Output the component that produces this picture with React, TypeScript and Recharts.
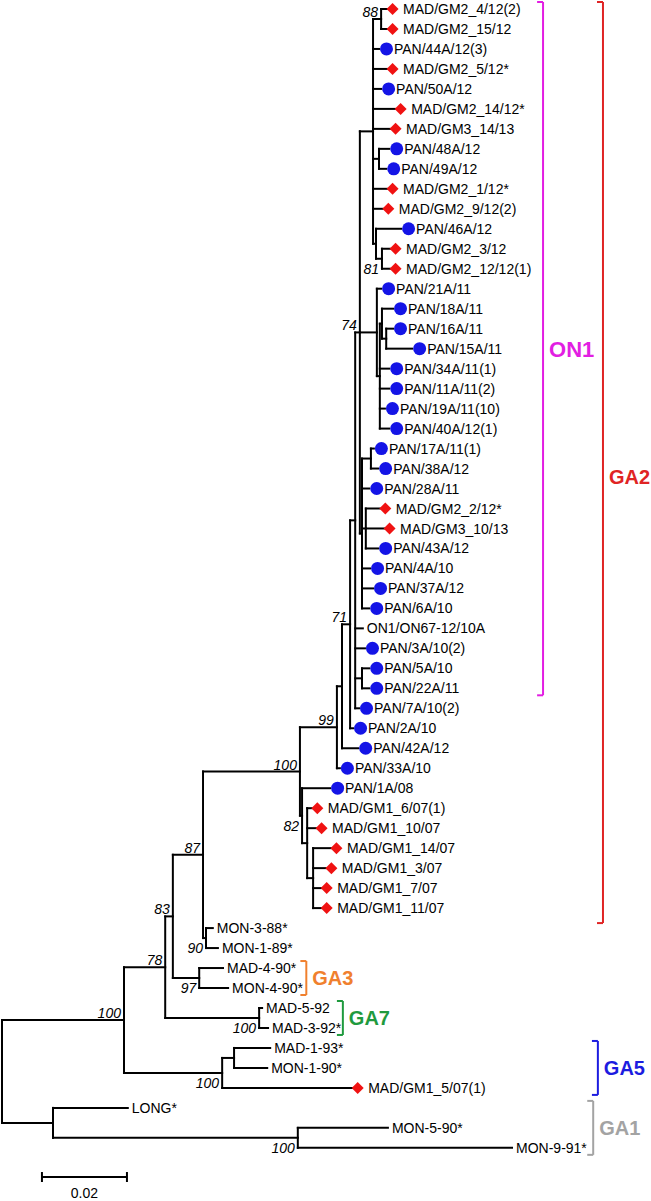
import { ReferenceLine, Scatter, ScatterChart, XAxis, YAxis } from "recharts";

// Leaves, top to bottom. One row each.
const leafNames = [
  "MAD/GM2_4/12(2)", "MAD/GM2_15/12", "PAN/44A/12(3)", "MAD/GM2_5/12*", "PAN/50A/12",
  "MAD/GM2_14/12*", "MAD/GM3_14/13", "PAN/48A/12", "PAN/49A/12", "MAD/GM2_1/12*",
  "MAD/GM2_9/12(2)", "PAN/46A/12", "MAD/GM2_3/12", "MAD/GM2_12/12(1)", "PAN/21A/11",
  "PAN/18A/11", "PAN/16A/11", "PAN/15A/11", "PAN/34A/11(1)", "PAN/11A/11(2)",
  "PAN/19A/11(10)", "PAN/40A/12(1)", "PAN/17A/11(1)", "PAN/38A/12", "PAN/28A/11",
  "MAD/GM2_2/12*", "MAD/GM3_10/13", "PAN/43A/12", "PAN/4A/10", "PAN/37A/12",
  "PAN/6A/10", "ON1/ON67-12/10A", "PAN/3A/10(2)", "PAN/5A/10", "PAN/22A/11",
  "PAN/7A/10(2)", "PAN/2A/10", "PAN/42A/12", "PAN/33A/10", "PAN/1A/08",
  "MAD/GM1_6/07(1)", "MAD/GM1_10/07", "MAD/GM1_14/07", "MAD/GM1_3/07", "MAD/GM1_7/07",
  "MAD/GM1_11/07", "MON-3-88*", "MON-1-89*", "MAD-4-90*", "MON-4-90*",
  "MAD-5-92", "MAD-3-92*", "MAD-1-93*", "MON-1-90*", "MAD/GM1_5/07(1)",
  "LONG*", "MON-5-90*", "MON-9-91*",
];

// Distance of each tip from the root (substitutions per site).
const leafDepths = [
  0.0906, 0.0906, 0.0887, 0.0906, 0.0892,
  0.0925, 0.0913, 0.0911, 0.0904, 0.0906,
  0.0896, 0.0939, 0.0913, 0.0913, 0.0892,
  0.092, 0.092, 0.0965, 0.0911, 0.0911,
  0.0901, 0.0911, 0.0875, 0.0885, 0.0864,
  0.0889, 0.0899, 0.0885, 0.0866, 0.0873,
  0.0864, 0.0849, 0.0854, 0.0864, 0.0864,
  0.084, 0.0826, 0.0838, 0.0795, 0.0772,
  0.0729, 0.0739, 0.0774, 0.0762, 0.0751,
  0.0751, 0.0496, 0.0508, 0.052, 0.0532,
  0.0612, 0.0626, 0.0631, 0.0624, 0.0824,
  0.0296, 0.0908, 0.12,
];

// Internal nodes: id, depth, children top to bottom (leaf row or node id).
const treeNodes: [string, number, (number | string)[]][] = [
  ["N88", 0.0892, [0, 1]],
  ["N48", 0.0887, [7, 8]],
  ["N81", 0.0894, [12, 13]],
  ["N46", 0.088, [11, "N81"]],
  ["T", 0.0873, ["N88", 2, 3, 4, 5, 6, "N48", 9, 10, "N46"]],
  ["N16", 0.0904, [16, 17]],
  ["N18", 0.0894, [15, "N16"]],
  ["S2b", 0.0889, ["N18", 18, 19, 20, 21]],
  ["S2", 0.0882, [14, "S2b"]],
  ["N17", 0.0868, [22, 23]],
  ["N366", 0.0856, [25, 26, 27]],
  ["M", 0.0847, ["N17", 24, "N366", 28, 29, 30]],
  ["N74", 0.0842, ["T", "S2", "M"]],
  ["N362", 0.0847, [33, 34]],
  ["Z", 0.0831, ["N74", 31, 32, "N362", 35]],
  ["Y", 0.0819, ["Z", 36]],
  ["X", 0.08, ["Y", 37]],
  ["N99", 0.0788, ["X", 38]],
  ["N313", 0.0732, [42, 43, 44, 45]],
  ["N82", 0.0718, [40, 41, "N313"]],
  ["N1A", 0.0706, [39, "N82"]],
  ["N100", 0.0701, ["N99", "N1A"]],
  ["N90", 0.048, [46, 47]],
  ["N87", 0.0473, ["N100", "N90"]],
  ["GA3", 0.0464, [48, 49]],
  ["N83", 0.0402, ["N87", "GA3"]],
  ["GA7", 0.0605, [50, 51]],
  ["N78", 0.0384, ["N83", "GA7"]],
  ["N93", 0.0546, [52, 53]],
  ["GA5", 0.0518, ["N93", 54]],
  ["NB", 0.0287, ["N78", "GA5"]],
  ["N591", 0.0696, [56, 57]],
  ["GA1", 0.012, [55, "N591"]],
  ["ROOT", 0, ["NB", "GA1"]],
];

const bootNodes = ["N88", "N81", "N74", "Y", "N99", "N100", "N1A", "N87", "N90", "N83", "GA3", "N78", "GA7", "NB", "GA5", "N591"];
const bootValues = [88, 81, 74, 71, 99, 100, 82, 87, 90, 83, 97, 78, 100, 100, 100, 100];

const cladeNames = ["ON1", "GA2", "GA3", "GA7", "GA5", "GA1"];
const cladeFirst = [0, 0, 48, 50, 52, 55];
const cladeLast = [34, 45, 49, 51, 54, 57];

const scaleLength = 0.02;

// ---- layout / style ----
const W = 651;
const H = 1201;
const X_DOMAIN: [number, number] = [-0.00047, 0.1527];
const Y_DOMAIN: [number, number] = [-0.45, 59.66];
const FONT = '"Liberation Sans", Arial, Helvetica, sans-serif';
const INK = "#000";
const RED = "#f01212";
const BLUE = "#1414e6";
const BOOT_BELOW = new Set(["N81", "N1A", "N90", "GA3", "GA7", "GA5", "N591"]);
const CLADE_COLORS = ["#e21ee2", "#e02424", "#f0802e", "#1f9a3e", "#1c1ce0", "#a3a3a3"];
const CLADE_X = [0.1273, 0.1414, 0.0716, 0.0802, 0.1402, 0.1391];
const CLADE_FONT = [22, 20, 20, 20, 20, 20];
const CLADE_LABEL_SHIFT = [0, 18, 0, 0, 0, 0];
const CLADE_PAD_BOTTOM = [0.35, 0.75, 0.35, 0.35, 0.35, 0.35];
const TICK = 0.0014;
const SCALE_X = 0.0094;
const SCALE_ROW = 58.46;

const nodeById = new Map(treeNodes.map(([id, depth, kids]) => [id, { depth, kids }]));

function depthOf(c: number | string): number {
  return typeof c === "number" ? leafDepths[c] : nodeById.get(c)!.depth;
}

function rowOf(c: number | string): number {
  if (typeof c === "number") return c;
  const n = nodeById.get(c)!;
  return (rowOf(n.kids[0]) + rowOf(n.kids[n.kids.length - 1])) / 2;
}

interface Seg {
  x1: number;
  y1: number;
  x2: number;
  y2: number;
}

const branches: Seg[] = [];
for (const [, depth, kids] of treeNodes) {
  branches.push({ x1: depth, y1: rowOf(kids[0]), x2: depth, y2: rowOf(kids[kids.length - 1]) });
  for (const k of kids) {
    branches.push({ x1: depth, y1: rowOf(k), x2: depthOf(k), y2: rowOf(k) });
  }
}

const leafData = leafNames.map((name, i) => ({ x: leafDepths[i], y: i, name }));
const bootData = bootNodes.map((id, i) => ({ x: depthOf(id), y: rowOf(id), id, value: bootValues[i] }));
const cladeData = cladeNames.map((name, i) => ({
  x: CLADE_X[i],
  y: (cladeFirst[i] + cladeLast[i]) / 2,
  name,
  i,
}));
const scaleData = [{ x: SCALE_X + scaleLength / 2, y: SCALE_ROW, label: String(scaleLength) }];

function markerOf(name: string) {
  if (name.startsWith("PAN/")) return "circle";
  if (name.startsWith("MAD/GM")) return "diamond";
  return "none";
}

function LeafMark(props: any) {
  const { cx, cy, payload } = props;
  const kind = markerOf(payload.name);
  let mark = null;
  let tx = cx + 4;
  if (kind === "circle") {
    mark = <circle cx={cx + 7.5} cy={cy} r={6.5} fill={BLUE} />;
    tx = cx + 15;
  } else if (kind === "diamond") {
    const mx = cx + 5.5;
    mark = <polygon points={`${mx},${cy - 6} ${mx + 6},${cy} ${mx},${cy + 6} ${mx - 6},${cy}`} fill={RED} />;
    tx = cx + 16;
  }
  return (
    <g>
      {mark}
      <text x={tx} y={cy} dy="0.36em" fontSize={14} fontFamily={FONT} fill={INK}>
        {payload.name}
      </text>
    </g>
  );
}

function BootLabel(props: any) {
  const { cx, cy, payload } = props;
  const below = BOOT_BELOW.has(payload.id);
  return (
    <text
      x={cx - 3}
      y={below ? cy + 10 : cy - 7}
      dy="0.36em"
      textAnchor="end"
      fontSize={14}
      fontStyle="italic"
      fontFamily={FONT}
      fill={INK}
    >
      {payload.value}
    </text>
  );
}

function CladeLabel(props: any) {
  const { cx, cy, payload } = props;
  return (
    <text
      x={cx + 6}
      y={cy + CLADE_LABEL_SHIFT[payload.i]}
      dy="0.36em"
      fontSize={CLADE_FONT[payload.i]}
      fontWeight="bold"
      fontFamily={FONT}
      fill={CLADE_COLORS[payload.i]}
    >
      {payload.name}
    </text>
  );
}

function ScaleLabel(props: any) {
  const { cx, cy, payload } = props;
  return (
    <text x={cx} y={cy + 16} dy="0.36em" textAnchor="middle" fontSize={14} fontFamily={FONT} fill={INK}>
      {payload.label}
    </text>
  );
}

export default function App() {
  return (
    <div style={{ position: "absolute", left: 0, top: 0, width: W, height: H, background: "#fff" }}>
      <ScatterChart width={W} height={H} margin={{ top: 0, right: 0, bottom: 0, left: 0 }}>
        <XAxis type="number" dataKey="x" domain={X_DOMAIN} allowDataOverflow hide />
        <YAxis type="number" dataKey="y" domain={Y_DOMAIN} allowDataOverflow reversed hide />

        {branches.map((s, i) => (
          <ReferenceLine
            key={`b${i}`}
            segment={[{ x: s.x1, y: s.y1 }, { x: s.x2, y: s.y2 }]}
            stroke={INK}
            strokeWidth={2}
            strokeLinecap="square"
            ifOverflow="visible"
          />
        ))}

        {cladeNames.map((name, i) => {
          const top = cladeFirst[i] - 0.35;
          const bottom = cladeLast[i] + CLADE_PAD_BOTTOM[i];
          const x = CLADE_X[i];
          const color = CLADE_COLORS[i];
          return [
            <ReferenceLine key={`${name}v`} segment={[{ x, y: top }, { x, y: bottom }]} stroke={color} strokeWidth={2} ifOverflow="visible" />,
            <ReferenceLine key={`${name}t`} segment={[{ x: x - TICK, y: top }, { x, y: top }]} stroke={color} strokeWidth={2} ifOverflow="visible" />,
            <ReferenceLine key={`${name}b`} segment={[{ x: x - TICK, y: bottom }, { x, y: bottom }]} stroke={color} strokeWidth={2} ifOverflow="visible" />,
          ];
        })}

        <ReferenceLine
          segment={[{ x: SCALE_X, y: SCALE_ROW }, { x: SCALE_X + scaleLength, y: SCALE_ROW }]}
          stroke={INK}
          strokeWidth={2}
          ifOverflow="visible"
        />
        <ReferenceLine
          segment={[{ x: SCALE_X, y: SCALE_ROW - 0.25 }, { x: SCALE_X, y: SCALE_ROW + 0.25 }]}
          stroke={INK}
          strokeWidth={2}
          ifOverflow="visible"
        />
        <ReferenceLine
          segment={[{ x: SCALE_X + scaleLength, y: SCALE_ROW - 0.25 }, { x: SCALE_X + scaleLength, y: SCALE_ROW + 0.25 }]}
          stroke={INK}
          strokeWidth={2}
          ifOverflow="visible"
        />

        <Scatter data={leafData} shape={LeafMark} isAnimationActive={false} />
        <Scatter data={bootData} shape={BootLabel} isAnimationActive={false} />
        <Scatter data={cladeData} shape={CladeLabel} isAnimationActive={false} />
        <Scatter data={scaleData} shape={ScaleLabel} isAnimationActive={false} />
      </ScatterChart>
    </div>
  );
}
